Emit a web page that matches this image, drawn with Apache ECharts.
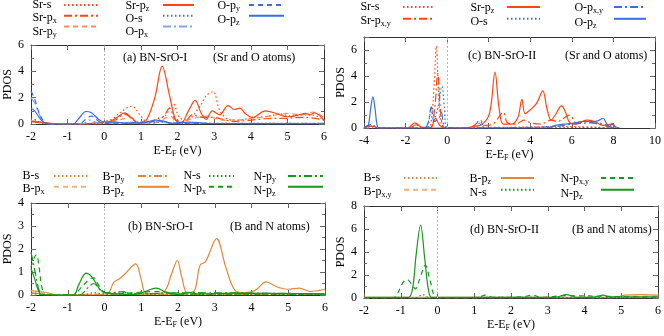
<!DOCTYPE html>
<html>
<head>
<meta charset="utf-8">
<script src="https://cdn.jsdelivr.net/npm/echarts@6/dist/echarts.min.js"></script>
<style>
  html, body { margin: 0; padding: 0; background: #fff; }
  #main { width: 664px; height: 336px; }
</style>
</head>
<body>
<div id="main"></div>
<script>
// ---- panel (a) BN-SrO-I, Sr and O atoms: [E, PDOS]
const aSrS = [[-2,0.15],[-1.8,0.1],[-1.5,0],[-0.2,0],[0,0.2],[0.2,0.35],[0.45,0.9],[0.75,1.35],[1.0,0.6],[1.2,0.1],[1.45,0.4],[1.66,0.6],[1.88,1.55],[2.05,0.5],[2.25,0.3],[2.6,1.3],[2.8,2.2],[2.97,2.45],[3.16,1.0],[3.4,0.35],[3.7,0.3],[4.0,0.45],[4.4,0.55],[4.8,0.75],[5.1,0.6],[5.5,0.7],[5.8,0.6],[6,0.3]]
const aSrPx = [[-2,0.2],[-1.7,0.1],[-1.4,0],[0,0],[0.3,0.3],[0.55,0.75],[0.8,0.3],[1.0,0],[1.4,0.1],[1.65,0.7],[1.78,1.2],[1.95,0.3],[2.2,0.2],[2.4,0.7],[2.7,0.5],[3.0,0.5],[3.3,0.3],[3.6,0.2],[4,0.3],[4.4,0.4],[5,0.45],[5.5,0.5],[6,0.3]]
const aSrPy = [[-2,0.25],[-1.7,0.15],[-1.4,0],[-0.5,0],[0,0.1],[0.4,0.3],[0.7,0.5],[1.0,0.05],[1.5,0.2],[1.8,0.6],[2.0,0.1],[2.4,0.4],[2.8,0.6],[3.2,0.3],[3.6,0.3],[4,0.4],[4.5,0.6],[5,0.8],[5.4,0.7],[5.7,0.9],[6,0.5]]
const aSrPz = [[-2,0.2],[-1.6,0.1],[-1.3,0],[-0.6,0],[-0.2,0.1],[0.1,0.15],[0.35,0.5],[0.55,0.85],[0.75,0.45],[0.95,0.05],[1.15,0.3],[1.38,2.0],[1.58,4.4],[1.78,2.2],[1.95,0.3],[2.1,0.1],[2.3,1.0],[2.48,1.8],[2.65,0.8],[2.78,0.35],[2.95,1.0],[3.15,0.7],[3.38,1.4],[3.55,1.1],[3.7,1.2],[3.85,0.8],[4.05,0.5],[4.4,1.0],[4.7,0.8],[5.0,0.55],[5.25,0.65],[5.5,0.8],[5.62,0.7],[5.75,0.85],[5.9,0.6],[6,0.3]]
const aOS = [[-2,0.5],[-1.8,0.2],[-1.6,0],[-0.5,0],[0,0.05],[0.5,0.1],[1.4,0.15],[2.0,0.05],[3,0.05],[6,0.05]]
const aOPx = [[-2,2.0],[-1.9,1.6],[-1.75,0.6],[-1.6,0],[-0.6,0],[-0.4,0.3],[-0.2,0.1],[0,0.05],[1.4,0.2],[1.8,0.1],[2.5,0.05],[6,0.05]]
const aOPy = [[-2,2.5],[-1.9,1.9],[-1.8,1.0],[-1.65,0.2],[-1.5,0],[-0.7,0],[-0.45,0.5],[-0.35,0.6],[-0.15,0.2],[0,0.05],[1.2,0.15],[1.5,0.25],[1.8,0.05],[6,0.03]]
const aOPz = [[-2,1.2],[-1.9,1.0],[-1.75,0.4],[-1.6,0.05],[-1.4,0],[-0.85,0],[-0.7,0.4],[-0.5,0.95],[-0.35,0.85],[-0.15,0.35],[0,0.15],[0.3,0.15],[0.6,0.05],[1.1,0.1],[1.4,0.3],[1.65,0.2],[1.85,0.05],[2.3,0.15],[2.8,0.05],[6,0.02]]

// ---- panel (b) BN-SrO-I, B and N atoms
const bBS = [[-2,0.05],[-1.5,0.02],[0,0.02],[2,0.03],[6,0.03]]
const bBPx = [[-2,0.1],[-1.6,0.05],[-1.2,0],[0.3,0.05],[1,0.03],[3,0.05],[6,0.04]]
const bBPy = [[-2,0.08],[-1.6,0.04],[-1.2,0],[0.5,0.04],[2,0.03],[6,0.03]]
const bBPz = [[-2,0.2],[-1.8,0.15],[-1.6,0.12],[-1.4,0.03],[-1.2,0],[0,0],[0.12,0.1],[0.25,0.55],[0.4,0.7],[0.55,0.9],[0.85,1.35],[0.98,0.8],[1.12,0.08],[1.35,0.05],[1.65,0.2],[1.82,0.9],[1.98,1.5],[2.1,0.8],[2.25,0.1],[2.45,0.2],[2.6,1.3],[2.75,1.45],[3.05,2.45],[3.3,1.2],[3.55,0.2],[3.8,0.1],[4.1,0.2],[4.4,0.57],[4.7,0.35],[5.0,0.25],[5.3,0.3],[5.6,0.15],[5.85,0.2],[6,0.25]]
const bNS = [[-2,0.1],[-1.8,0.05],[-1.6,0],[-0.6,0],[-0.3,0.1],[0,0.05],[0.5,0.1],[1,0.05],[6,0.03]]
const bNPx = [[-2,1.2],[-1.92,1.6],[-1.85,1.75],[-1.78,1.2],[-1.7,0.3],[-1.6,0],[-0.85,0],[-0.65,0.3],[-0.4,0.7],[-0.3,0.75],[-0.15,0.4],[0,0.1],[0.2,0.05],[1.4,0.15],[2.3,0.05],[6,0.03]]
const bNPy = [[-2,1.85],[-1.95,1.5],[-1.85,0.7],[-1.75,0.1],[-1.6,0],[-0.7,0],[-0.4,0.4],[-0.3,0.5],[-0.1,0.2],[0.1,0.1],[0.5,0.15],[0.7,0.05],[2.3,0.1],[6,0.05]]
const bNPz = [[-2,1.15],[-1.9,0.7],[-1.8,0.2],[-1.7,0],[-0.85,0],[-0.7,0.45],[-0.5,0.95],[-0.35,0.8],[-0.15,0.3],[0,0.1],[0.3,0.05],[0.8,0.02],[1.1,0.15],[1.4,0.3],[1.7,0.1],[2.0,0.02],[2.3,0.12],[2.5,0.05],[3.5,0.08],[6,0.05]]

// ---- panel (c) BN-SrO-II, Sr and O atoms
const cSrS = [[-4,0],[-0.9,0],[-0.75,0.8],[-0.62,3.5],[-0.52,6.3],[-0.42,3.0],[-0.3,0.5],[-0.15,0],[1.4,0],[1.6,0.5],[1.75,0.1],[2.5,0.05],[5,0.1],[6,0.1],[8,0]]
const cSrPxy = [[-4,0.1],[-3.6,0.15],[-3.3,0],[-1.8,0],[-1.5,0.25],[-1.2,0],[-0.8,0],[-0.6,1.5],[-0.45,4.2],[-0.3,1.0],[-0.1,0],[1.0,0],[1.3,0.2],[1.6,0.6],[1.8,0.2],[2.2,0.3],[2.7,1.2],[2.9,0.4],[3.3,0.3],[3.7,0.6],[4.0,0.4],[4.5,0.3],[5.0,0.6],[5.3,0.5],[5.9,1.0],[6.2,0.4],[6.6,0.5],[7,0.4],[7.5,0.2],[8,0]]
const cSrPz = [[-4,0],[-3.7,0.15],[-3.5,0.1],[-3.3,0],[-1.9,0],[-1.55,0.4],[-1.2,0.05],[-0.8,0.05],[-0.55,0.75],[-0.4,0.3],[-0.2,0.05],[0.8,0],[1.2,0.1],[1.7,0.3],[2.05,1.2],[2.3,4.3],[2.5,1.5],[2.7,0.3],[3.1,0.3],[3.4,0.8],[3.6,2.2],[3.75,1.1],[4.0,1.4],[4.3,1.9],[4.6,2.85],[4.8,1.5],[5.0,0.6],[5.2,1.0],[5.5,1.7],[5.7,1.2],[5.9,0.4],[6.2,0.3],[6.7,0.6],[7.1,0.5],[7.5,0.2],[7.9,0.3],[8.1,0]]
const cOS = [[-4,0],[-1.0,0],[-0.85,0.8],[-0.75,1.6],[-0.6,0.8],[-0.45,1.5],[-0.25,3.2],[-0.13,1.5],[-0.05,0.1],[0.2,0],[1.5,0],[1.65,0.4],[1.8,0],[5,0.05],[7,0.05],[8,0]]
const cOPxy = [[-4,0],[-3.8,0.2],[-3.6,0.3],[-3.4,0],[-1.1,0],[-0.9,0.5],[-0.77,1.6],[-0.62,0.5],[-0.38,0.8],[-0.28,1.2],[-0.1,0.1],[0.5,0],[5,0.1],[6,0.3],[7,0.4],[7.5,0.3],[8,0]]
const cOPz = [[-4,0],[-3.8,0.2],[-3.68,1.5],[-3.57,2.4],[-3.47,1.5],[-3.35,0.1],[-3.2,0],[4.8,0],[5.2,0.2],[5.6,0.3],[6.0,0.35],[6.5,0.5],[7.0,0.5],[7.25,0.55],[7.5,0.75],[7.65,0.4],[7.8,0.1],[7.95,0.35],[8.1,0.1],[8.3,0]]

// ---- panel (d) BN-SrO-II, B and N atoms
const dBS = [[-2,0.02],[2,0.02],[6,0.03]]
const dBPxy = [[-2,0.02],[4.8,0.02],[5.3,0.15],[6,0.15]]
const dBPz = [[-2,0.05],[4.6,0.05],[4.9,0.1],[5.1,0.25],[5.5,0.3],[6,0.25]]
const dNS = [[-2,0],[-0.6,0],[-0.4,0.3],[-0.2,0],[1.3,0.05],[6,0.02]]
const dNPxy = [[-2,0],[-1.2,0],[-1.1,0.3],[-0.95,1.3],[-0.83,1.6],[-0.7,1.2],[-0.6,0.8],[-0.5,1.5],[-0.33,2.85],[-0.2,1.5],[-0.05,0.1],[0.2,0],[1.1,0.05],[1.3,0.25],[1.5,0.05],[2.3,0.1],[2.6,0.25],[2.8,0.05],[3.5,0.2],[4.5,0.15],[6,0.05]]
const dNPz = [[-2,0.05],[-0.8,0.05],[-0.68,0.8],[-0.58,3.8],[-0.46,6.35],[-0.35,3.5],[-0.25,0.8],[-0.15,0.05],[3.2,0.05],[3.5,0.3],[3.8,0.05],[4.3,0.1],[4.5,0.25],[4.7,0.1],[6,0.1]]

const FONT = 'Liberation Serif'
const RED = '#ff4510', RED_L = '#ff8a5c', BLUE = '#3a6de0', BLUE_L = '#85a5ee'
const TAN = '#e0873a', TAN_L = '#efb27e', GREEN = '#14991a'
const DOT = [1.5, 2.5], DASH = [5, 4], DASHDOT = [8, 3, 2, 3]

// legend label text (with subscripts)
function lab (base, sub) {
  return sub ? '{t|' + base + '}{s|' + sub + '}' : '{t|' + base + '}'
}

// key columns: tx = text start, lx = sample line start, lw = sample line length
const panels = [
  { grid: { left: 31, top: 45, width: 293, height: 79 }, x: [-2, 6, 1], y: [0, 6, 2], maxLabel: true,
    title: ['(a) BN-SrO-I', '(Sr and O atoms)'], tpos: [123, 213, 58],
    series: [
      ['a1', 'Sr-s', '', aSrS, RED, DOT], ['a2', 'Sr-p', 'x', aSrPx, RED, DASHDOT], ['a3', 'Sr-p', 'y', aSrPy, RED_L, DASH],
      ['a4', 'Sr-p', 'z', aSrPz, RED, 'solid'], ['a5', 'O-s', '', aOS, BLUE, DOT], ['a6', 'O-p', 'x', aOPx, BLUE_L, DASHDOT],
      ['a7', 'O-p', 'y', aOPy, BLUE, DASH], ['a8', 'O-p', 'z', aOPz, BLUE, 'solid']
    ],
    keyTop: -1, keyGap: 0,
    keys: [
      { tx: 32, lx: 63, lw: 34, data: ['a1', 'a2', 'a3'] },
      { tx: 125, lx: 162, lw: 31, data: ['a4', 'a5', 'a6'] },
      { tx: 217, lx: 248, lw: 35, data: ['a7', 'a8'] }
    ] },
  { grid: { left: 31, top: 203, width: 294, height: 92 }, x: [-2, 6, 1], y: [0, 4, 1], maxLabel: true,
    title: ['(b) BN-SrO-I', '(B and N atoms)'], tpos: [128, 230, 227],
    series: [
      ['b1', 'B-s', '', bBS, TAN, DOT], ['b2', 'B-p', 'x', bBPx, TAN_L, DASH], ['b3', 'B-p', 'y', bBPy, TAN, DASHDOT],
      ['b4', 'B-p', 'z', bBPz, TAN, 'solid'], ['b5', 'N-s', '', bNS, GREEN, DOT], ['b6', 'N-p', 'x', bNPx, GREEN, DASH],
      ['b7', 'N-p', 'y', bNPy, GREEN, DASHDOT], ['b8', 'N-p', 'z', bNPz, GREEN, 'solid']
    ],
    keyTop: 170, keyGap: 0,
    keys: [
      { tx: 22, lx: 53, lw: 35, data: ['b1', 'b2'] },
      { tx: 102, lx: 137, lw: 31, data: ['b3', 'b4'] },
      { tx: 183, lx: 208, lw: 25, data: ['b5', 'b6'] },
      { tx: 253, lx: 287, lw: 35, data: ['b7', 'b8'] }
    ] },
  { grid: { left: 364, top: 37, width: 291, height: 91 }, x: [-4, 10, 2], y: [0, 7, 2], maxLabel: false,
    title: ['(c) BN-SrO-II', '(Sr and O atoms)'], tpos: [468, 565, 56],
    series: [
      ['c1', 'Sr-s', '', cSrS, RED, DOT], ['c2', 'Sr-p', 'x,y', cSrPxy, RED, DASHDOT], ['c3', 'Sr-p', 'z', cSrPz, RED, 'solid'],
      ['c4', 'O-s', '', cOS, BLUE, DOT], ['c5', 'O-p', 'x,y', cOPxy, BLUE, DASHDOT], ['c6', 'O-p', 'z', cOPz, BLUE, 'solid']
    ],
    keyTop: 1, keyGap: 1,
    keys: [
      { tx: 360, lx: 402, lw: 30, data: ['c1', 'c2'] },
      { tx: 470, lx: 506, lw: 33, data: ['c3', 'c4'] },
      { tx: 574, lx: 613, lw: 32, data: ['c5', 'c6'] }
    ] },
  { grid: { left: 364, top: 206, width: 294, height: 92 }, x: [-2, 6, 1], y: [0, 8, 2], maxLabel: true,
    title: ['(d) BN-SrO-II', '(B and N atoms)'], tpos: [470, 572, 230],
    series: [
      ['d1', 'B-s', '', dBS, TAN, DOT], ['d2', 'B-p', 'x,y', dBPxy, TAN_L, DASH], ['d3', 'B-p', 'z', dBPz, TAN, 'solid'],
      ['d4', 'N-s', '', dNS, GREEN, DOT], ['d5', 'N-p', 'x,y', dNPxy, GREEN, DASH], ['d6', 'N-p', 'z', dNPz, GREEN, 'solid']
    ],
    keyTop: 172, keyGap: 1,
    keys: [
      { tx: 363, lx: 403, lw: 33, data: ['d1', 'd2'] },
      { tx: 469, lx: 500, lw: 33, data: ['d3', 'd4'] },
      { tx: 560, lx: 600, lw: 33, data: ['d5', 'd6'] }
    ] }
]

const labels = {}
const rich = {
  t: { fontFamily: FONT, fontSize: 12, lineHeight: 12, color: '#000' },
  s: { fontFamily: FONT, fontSize: 8, lineHeight: 6, color: '#000', padding: [6, 0, 0, 0] }
}
const grids = [], xAxes = [], yAxes = [], series = [], legends = [], graphics = []
const hidden = { color: 'rgba(0,0,0,0)', borderColor: 'rgba(0,0,0,0)', borderWidth: 0 }

panels.forEach((p, i) => {
  grids.push(p.grid)
  const axisLine = { show: true, onZero: false, lineStyle: { color: '#333', width: 1 } }
  const tick = { show: true, inside: true, length: 5, lineStyle: { color: '#666' } }
  const minor = { show: true, splitNumber: 2, length: 3, lineStyle: { color: '#666' } }
  xAxes.push({
    type: 'value', gridIndex: i, min: p.x[0], max: p.x[1], interval: p.x[2],
    axisLine, axisTick: tick, splitLine: { show: false },
    axisLabel: { fontFamily: FONT, fontSize: 12, color: '#000', margin: 7 },
    name: '{t|E-E}{s|F}{t| (eV)}', nameLocation: 'middle', nameGap: 17,
    nameTextStyle: { rich }
  })
  xAxes.push({
    type: 'value', gridIndex: i, position: 'top', min: p.x[0], max: p.x[1], interval: p.x[2],
    axisLine, axisTick: tick, axisLabel: { show: false }, splitLine: { show: false }
  })
  yAxes.push({
    type: 'value', gridIndex: i, min: p.y[0], max: p.y[1], interval: p.y[2],
    axisLine, axisTick: tick, minorTick: minor, splitLine: { show: false },
    axisLabel: { fontFamily: FONT, fontSize: 12, color: '#000', margin: 7, showMaxLabel: p.maxLabel },
    name: 'PDOS', nameLocation: 'middle', nameGap: 17,
    nameTextStyle: { fontFamily: FONT, fontSize: 12, color: '#000' }
  })
  yAxes.push({
    type: 'value', gridIndex: i, position: 'right', min: p.y[0], max: p.y[1], interval: p.y[2],
    axisLine, axisTick: tick, minorTick: minor, axisLabel: { show: false }, splitLine: { show: false }
  })
  p.series.forEach((s, k) => {
    labels[s[0]] = lab(s[1], s[2])
    const item = {
      name: s[0], type: 'line', xAxisIndex: 2 * i, yAxisIndex: 2 * i,
      data: s[3], smooth: 0.35, symbol: 'none', clip: true,
      lineStyle: { color: s[4], width: 1.2, type: s[5] },
      itemStyle: { color: s[4] }
    }
    if (k === 0) {
      // Fermi level marker
      item.markLine = {
        silent: true, symbol: 'none', label: { show: false }, animation: false,
        lineStyle: { color: '#bbb', type: [2, 2], width: 1 },
        data: [{ xAxis: 0 }]
      }
    }
    series.push(item)
  })
  p.keys.forEach(l => {
    // text column (left justified)
    legends.push({
      orient: 'vertical', left: l.tx - 5, top: p.keyTop, padding: 0, itemGap: p.keyGap,
      itemWidth: 0, itemHeight: 1, align: 'left', selectedMode: false,
      data: l.data, formatter: n => labels[n],
      itemStyle: hidden, lineStyle: { width: 0 },
      textStyle: { fontFamily: FONT, fontSize: 12, color: '#000', rich }
    })
    // line samples column
    legends.push({
      orient: 'vertical', left: l.lx, top: p.keyTop, padding: 0, itemGap: p.keyGap,
      itemWidth: l.lw, itemHeight: 12, align: 'left', selectedMode: false,
      data: l.data, formatter: () => '',
      itemStyle: hidden,
      textStyle: { fontSize: 1 }
    })
  })
  const tfont = '12px "Liberation Serif"'
  graphics.push({ type: 'text', x: p.tpos[0], y: p.tpos[2], style: { text: p.title[0], font: tfont, fill: '#000', verticalAlign: 'middle' } })
  graphics.push({ type: 'text', x: p.tpos[1], y: p.tpos[2], style: { text: p.title[1], font: tfont, fill: '#000', verticalAlign: 'middle' } })
})

const chart = echarts.init(document.getElementById('main'))
chart.setOption({
  animation: false,
  backgroundColor: '#fff',
  grid: grids,
  xAxis: xAxes,
  yAxis: yAxes,
  legend: legends,
  graphic: graphics,
  series
})
</script>
</body>
</html>
